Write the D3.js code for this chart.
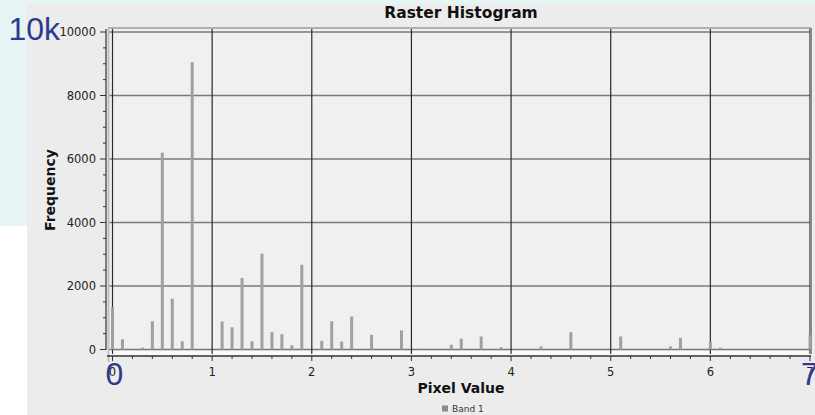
<!DOCTYPE html>
<html><head><meta charset="utf-8">
<script src="https://cdn.jsdelivr.net/npm/d3@7"></script>
<style>html,body{margin:0;padding:0;background:#fff;}svg{display:block;}</style>
</head><body>
<svg id="c" width="815" height="415"></svg>
<script>
const pixelValues = [0.0,0.1,0.3,0.4,0.5,0.6,0.7,0.8,1.1,1.2,1.3,1.4,1.5,1.6,1.7,1.8,1.9,2.1,2.2,2.3,2.4,2.6,2.9,3.1,3.4,3.5,3.7,3.9,4.3,4.6,5.1,5.6,5.7,6.0,6.1,7.0];
const frequencies = [1330,320,60,890,6200,1600,260,9050,880,700,2250,260,3020,550,480,130,2670,270,890,250,1040,460,600,30,150,340,410,75,95,545,410,95,370,250,60,450];
const xTickValues = [0,1,2,3,4,5,6,7];
const yTickValues = [0,2000,4000,6000,8000,10000];
const titleText = "Raster Histogram";
const xTitle = "Pixel Value";
const yTitle = "Frequency";
const legendLabel = "Band 1";
const overlayLabels = ["10k","0","7"];

const svg = d3.select("#c");
// backgrounds
svg.append("rect").attr("x",0).attr("y",0).attr("width",27).attr("height",226).attr("fill","#e6f4f4");
svg.append("rect").attr("x",0).attr("y",0).attr("width",815).attr("height",4).attr("fill","#e6f4f4");
svg.append("rect").attr("x",27).attr("y",4).attr("width",788).attr("height",411).attr("fill","#ececec");

const x = d3.scaleLinear().domain([0,7]).range([112.5,810]);
const y = d3.scaleLinear().domain([0,10000]).range([349.5,32]);
const L=108, R=811, T=28, B=351;

// plot area
svg.append("rect").attr("x",L).attr("y",T).attr("width",R-L).attr("height",B-T).attr("fill","#f0f0f0");
svg.append("rect").attr("x",L).attr("y",351).attr("width",R-L).attr("height",4).attr("fill","#fafafa");

// grid
svg.append("g").selectAll("line").data(yTickValues).join("line")
  .attr("x1",L).attr("x2",R).attr("y1",d=>y(d)).attr("y2",d=>y(d))
  .attr("stroke","#7a7a7a").attr("stroke-width",1.4);
svg.append("g").selectAll("line").data(xTickValues).join("line")
  .attr("x1",d=>x(d)).attr("x2",d=>x(d)).attr("y1",T+1).attr("y2",B+3)
  .attr("stroke","#2a2a2a").attr("stroke-width",1.2);

// borders
svg.append("line").attr("x1",L).attr("x2",R).attr("y1",T).attr("y2",T).attr("stroke","#b0b0b0").attr("stroke-width",2);
svg.append("line").attr("x1",L+0.5).attr("x2",L+0.5).attr("y1",T).attr("y2",362).attr("stroke","#c0c0c0").attr("stroke-width",2);
svg.append("line").attr("x1",R).attr("x2",R).attr("y1",T).attr("y2",B+3).attr("stroke","#8a8a8a").attr("stroke-width",2);

// bars
svg.append("g").selectAll("rect").data(pixelValues.map((v,i)=>({v,f:frequencies[i]}))).join("rect")
  .attr("x",d=>x(d.v)-1.5).attr("width",3)
  .attr("y",d=>y(d.f)).attr("height",d=>y(0)-y(d.f))
  .attr("fill","#a0a0a0");

// y axis
const yg = svg.append("g").attr("transform","translate(106,0)");
yg.append("line").attr("x1",0).attr("x2",0).attr("y1",29).attr("y2",350).attr("stroke","#333").attr("stroke-width",1.2);
yg.selectAll("line.mt").data(d3.range(0,10001,500)).join("line").attr("class","mt")
  .attr("x1",d=>d%2000===0?-6:-3).attr("x2",0).attr("y1",d=>y(d)).attr("y2",d=>y(d))
  .attr("stroke","#333").attr("stroke-width",1);
yg.selectAll("text").data(yTickValues).join("text")
  .attr("x",-10).attr("y",d=>y(d)).attr("dy","0.35em").attr("text-anchor","end")
  .attr("font-family","DejaVu Sans").attr("font-size",11.5).attr("fill","#222").text(d=>d);

// x axis
const xg = svg.append("g").attr("transform","translate(0,356)");
xg.append("line").attr("x1",107).attr("x2",811).attr("y1",0).attr("y2",0).attr("stroke","#333").attr("stroke-width",1.3);
xg.selectAll("line.t").data(d3.range(0,36).map(i=>i*0.2)).join("line").attr("class","t")
  .attr("x1",d=>x(d)).attr("x2",d=>x(d)).attr("y1",0).attr("y2",(d)=>Math.abs(d-Math.round(d))<1e-6?5:3)
  .attr("stroke","#333").attr("stroke-width",1);
xg.selectAll("text").data(xTickValues).join("text")
  .attr("x",d=>x(d)).attr("y",16).attr("dy","0.35em").attr("text-anchor","middle")
  .attr("font-family","DejaVu Sans").attr("font-size",11.5).attr("fill","#222").text(d=>d);

// titles
svg.append("text").attr("x",461).attr("y",18).attr("text-anchor","middle")
  .attr("font-family","DejaVu Sans").attr("font-weight","bold").attr("font-size",15.5).attr("fill","#111").text(titleText);
svg.append("text").attr("transform","translate(55,190) rotate(-90)").attr("text-anchor","middle")
  .attr("font-family","DejaVu Sans").attr("font-weight","bold").attr("font-size",14).attr("fill","#111").text(yTitle);
svg.append("text").attr("x",461).attr("y",393).attr("text-anchor","middle")
  .attr("font-family","DejaVu Sans").attr("font-weight","bold").attr("font-size",14).attr("fill","#111").text(xTitle);

// legend
svg.append("rect").attr("x",442).attr("y",405.5).attr("width",6).attr("height",6).attr("fill","#8a8a8a");
svg.append("text").attr("x",452).attr("y",412).attr("font-family","DejaVu Sans").attr("font-size",9).attr("fill","#333").text(legendLabel);

// overlay labels
const ov = [{t:overlayLabels[0],x:8.5,y:40},{t:overlayLabels[1],x:105.5,y:385},{t:overlayLabels[2],x:801,y:385}];
svg.append("g").selectAll("text").data(ov).join("text")
  .attr("x",d=>d.x).attr("y",d=>d.y).attr("font-family","Liberation Sans").attr("font-size",32)
  .attr("fill","#2e3a8e").text(d=>d.t);
</script>
</body></html>
